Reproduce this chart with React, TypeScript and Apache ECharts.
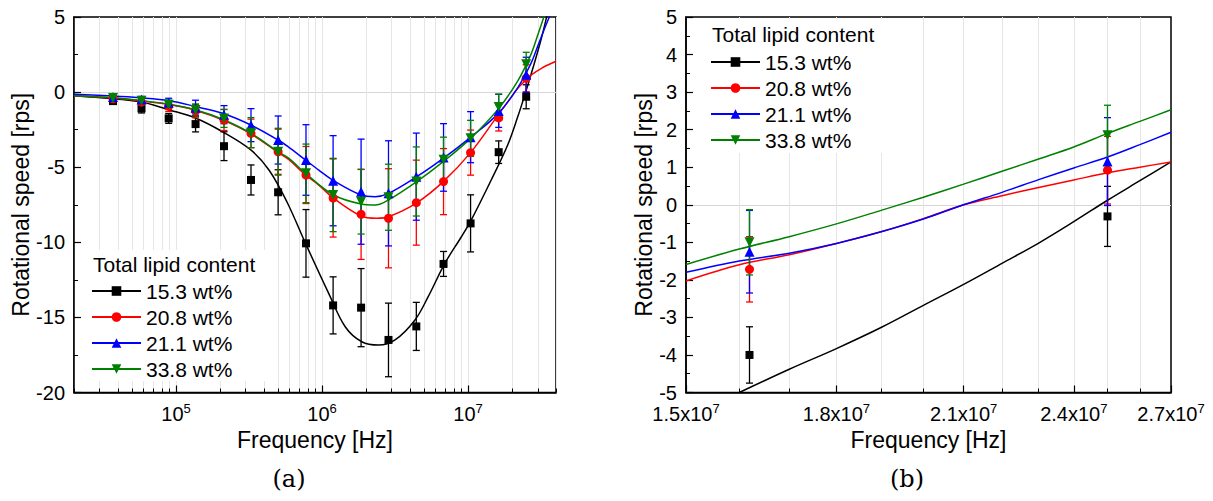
import React, { useEffect, useRef } from "react";
import * as echarts from "echarts";

const FONT = "'Liberation Sans', Arial, sans-serif";

// Series metadata
const seriesNames = ["15.3 wt%", "20.8 wt%", "21.1 wt%", "33.8 wt%"];
const seriesColors = ["#000000", "#ff0000", "#0000ff", "#008000"];
const seriesSymbols = ["rect", "circle", "triangle", "triangle"];
const symbolRotations = [0, 0, 0, 180];
const symbolSizes = [8, 9, 10, 10];

// Measured points (frequency in Hz)
const freqHz = [3.7e4, 5.8e4, 8.9e4, 1.36e5, 2.13e5, 3.26e5, 5.0e5, 7.76e5, 1.19e6, 1.85e6, 2.85e6, 4.42e6, 6.79e6, 1.04e7, 1.62e7, 2.5e7];

const speed153 = [-0.6, -1.09, -1.75, -2.13, -3.6, -5.85, -6.67, -10.07, -14.2, -14.35, -16.5, -15.6, -11.44, -8.74, -4.0, -0.31];
const err153 = [0.2, 0.3, 0.33, 0.52, 0.96, 1.0, 1.5, 2.25, 1.9, 2.6, 2.45, 1.6, 0.83, 1.9, 0.75, 0.8];
const speed208 = [-0.45, -0.67, -0.93, -1.26, -1.86, -2.75, -3.97, -5.52, -7.05, -8.14, -8.4, -7.36, -5.96, -4.03, -1.72, 0.92];
const err208 = [0.2, 0.25, 0.35, 0.45, 0.7, 0.95, 1.5, 1.9, 2.6, 3.0, 3.3, 2.83, 2.2, 1.5, 0.87, 0.9];
const speed211 = [-0.33, -0.49, -0.71, -1.04, -1.5, -2.2, -3.19, -4.52, -5.9, -6.63, -6.74, -5.63, -4.35, -3.0, -1.25, 1.15];
const err211 = [0.15, 0.2, 0.3, 0.5, 0.6, 1.1, 1.6, 2.35, 3.0, 3.5, 3.5, 2.9, 2.25, 1.7, 1.1, 1.17];
const speed338 = [-0.4, -0.58, -0.84, -1.2, -1.75, -2.7, -3.97, -5.41, -6.85, -7.3, -7.0, -5.95, -4.5, -3.08, -1.0, 1.85];
const err338 = [0.15, 0.2, 0.3, 0.4, 0.6, 1.0, 1.56, 1.95, 2.44, 2.15, 2.2, 2.3, 1.5, 1.2, 0.87, 0.8];

// Fitted curves, panel (a)
const fitFreqA153 = [2e4, 3.2e4, 5.6e4, 9e4, 1.37e5, 2.08e5, 3.25e5, 4.34e5, 5.74e5, 7.7e5, 1.11e6, 1.44e6, 1.87e6, 2.44e6, 3.16e6, 4.33e6, 5.33e6, 6.93e6, 9.0e6, 1.05e7, 1.44e7, 1.87e7, 2.19e7, 2.48e7, 2.8e7, 3.16e7, 3.45e7, 3.7e7];
const fitA153 = [-0.25, -0.4, -0.63, -1.19, -1.74, -2.64, -3.85, -5.2, -7.3, -10.07, -13.4, -15.62, -16.62, -16.84, -16.5, -15.17, -13.62, -11.4, -9.63, -8.52, -5.85, -3.5, -1.63, 0.0, 1.7, 3.5, 5.0, 6.3];
const fitFreqA208 = [2e4, 3.7e4, 5.6e4, 9e4, 1.37e5, 2.08e5, 3.25e5, 5.0e5, 5.93e5, 7.7e5, 9.5e5, 1.2e6, 1.85e6, 2.36e6, 2.85e6, 4.45e6, 6.76e6, 1.04e7, 1.6e7, 2.19e7, 2.48e7, 2.7e7, 3.2e7, 4e7];
const fitA208 = [-0.25, -0.4, -0.57, -0.83, -1.22, -1.85, -2.78, -4.02, -4.5, -5.52, -6.19, -7.07, -8.25, -8.4, -8.3, -7.37, -5.96, -4.03, -1.55, 0.25, 0.8, 1.13, 1.6, 2.05];
const fitFreqA211 = [2e4, 3.7e4, 5.6e4, 9e4, 1.37e5, 2.08e5, 3.25e5, 5.0e5, 5.93e5, 7.7e5, 9.5e5, 1.2e6, 1.85e6, 2.31e6, 2.85e6, 4.45e6, 6.76e6, 1.04e7, 1.6e7, 2.19e7, 2.7e7, 3.0e7, 3.3e7, 3.6e7, 4e7];
const fitA211 = [-0.15, -0.26, -0.37, -0.57, -0.97, -1.41, -2.19, -3.19, -3.68, -4.52, -5.19, -5.9, -6.85, -6.96, -6.74, -5.63, -4.41, -3.01, -1.45, 0.3, 1.93, 3.06, 4.1, 5.0, 6.0];
const fitFreqA338 = [2e4, 3.7e4, 5.6e4, 9e4, 1.37e5, 2.08e5, 3.25e5, 5.0e5, 5.93e5, 7.7e5, 1.2e6, 1.85e6, 2.31e6, 2.85e6, 4.45e6, 6.76e6, 1.04e7, 1.6e7, 2.19e7, 2.7e7, 3.0e7, 3.3e7, 3.6e7];
const fitA338 = [-0.25, -0.38, -0.55, -0.81, -1.19, -1.81, -2.74, -3.97, -4.41, -5.41, -6.85, -7.45, -7.52, -7.18, -5.96, -4.63, -3.08, -1.15, 0.75, 2.53, 3.8, 5.0, 6.2];

// Fitted curves, panel (b)
const fitFreqB = [1.5e7, 1.6e7, 1.7e7, 1.8e7, 1.9e7, 2.0e7, 2.1e7, 2.2e7, 2.3e7, 2.4e7, 2.5e7, 2.6e7, 2.7e7];
const fitFreqB153 = [1.6e7, 1.7e7, 1.8e7, 1.9e7, 2.0e7, 2.1e7, 2.2e7, 2.3e7, 2.4e7, 2.5e7, 2.6e7, 2.7e7];
const fitB153 = [-5.0, -4.38, -3.83, -3.27, -2.68, -2.12, -1.56, -1.02, -0.45, 0.12, 0.64, 1.14];
const fitB208 = [-2.03, -1.6, -1.33, -1.03, -0.72, -0.37, 0.0, 0.24, 0.46, 0.66, 0.85, 1.0, 1.14];
const fitB211 = [-1.8, -1.5, -1.29, -1.03, -0.72, -0.38, 0.0, 0.33, 0.67, 0.98, 1.27, 1.6, 1.93];
const fitB338 = [-1.59, -1.18, -0.85, -0.51, -0.15, 0.2, 0.55, 0.89, 1.22, 1.54, 1.9, 2.22, 2.53];

// Axes
const xRangeA = [2e4, 4e7];
const xMajorA = [1e5, 1e6, 1e7];
const xGridA = [2e4, 3e4, 4e4, 5e4, 6e4, 7e4, 8e4, 9e4, 1e5, 2e5, 3e5, 4e5, 5e5, 6e5, 7e5, 8e5, 9e5, 1e6, 2e6, 3e6, 4e6, 5e6, 6e6, 7e6, 8e6, 9e6, 1e7, 2e7, 3e7, 4e7];
const yRangeA = [-20, 5];
const xRangeB = [1.5e7, 2.7e7];
const xMajorB = [1.5e7, 1.8e7, 2.1e7, 2.4e7, 2.7e7];
const xGridB = [1.6e7, 1.7e7, 1.8e7, 1.9e7, 2.0e7, 2.1e7, 2.2e7, 2.3e7, 2.4e7, 2.5e7, 2.6e7];
const yRangeB = [-5, 5];

const legendTitle = "Total lipid content";
const xTitle = "Frequency [Hz]";
const yTitle = "Rotational speed [rps]";

const lg = (v: number) => Math.log10(v);

const speeds = [speed153, speed208, speed211, speed338];
const errs = [err153, err208, err211, err338];
const fitsA = [
  [fitFreqA153, fitA153],
  [fitFreqA208, fitA208],
  [fitFreqA211, fitA211],
  [fitFreqA338, fitA338],
];
const fitsB = [
  [fitFreqB153, fitB153],
  [fitFreqB, fitB208],
  [fitFreqB, fitB211],
  [fitFreqB, fitB338],
];

const errRender = (color: string) => (params: any, api: any) => {
  const x = api.value(0);
  const y = api.value(1);
  const e = api.value(2);
  const p1 = api.coord([x, y + e]);
  const p2 = api.coord([x, y - e]);
  const w = 3.5;
  const st = { stroke: color, lineWidth: 1.3 };
  return {
    type: "group",
    children: [
      { type: "line", shape: { x1: p1[0], y1: p1[1], x2: p2[0], y2: p2[1] }, style: st },
      { type: "line", shape: { x1: p1[0] - w, y1: p1[1], x2: p1[0] + w, y2: p1[1] }, style: st },
      { type: "line", shape: { x1: p2[0] - w, y1: p2[1], x2: p2[0] + w, y2: p2[1] }, style: st },
    ],
  };
};

function panelSeries(panel: number, fits: any[], fMin: number, fMax: number) {
  const ax = panel * 2;
  const out: any[] = [];
  for (let i = 0; i < 4; i++) {
    const [ff, vv] = fits[i];
    out.push({
      name: seriesNames[i],
      type: "line",
      xAxisIndex: ax,
      yAxisIndex: ax,
      data: ff.map((f: number, k: number) => [lg(f), vv[k]]),
      smooth: 0.35,
      showSymbol: false,
      symbol: seriesSymbols[i],
      symbolRotate: symbolRotations[i],
      symbolSize: symbolSizes[i],
      lineStyle: { color: seriesColors[i], width: 1.5 },
      itemStyle: { color: seriesColors[i] },
      clip: true,
      silent: true,
      z: 2,
    });
  }
  for (let i = 0; i < 4; i++) {
    const pts: any[] = [];
    freqHz.forEach((f, k) => {
      if (f >= fMin && f <= fMax) pts.push([lg(f), speeds[i][k], errs[i][k]]);
    });
    out.push({
      name: "err" + panel + "-" + i,
      type: "custom",
      xAxisIndex: ax,
      yAxisIndex: ax,
      data: pts,
      encode: { x: 0, y: 1 },
      renderItem: errRender(seriesColors[i]),
      silent: true,
      z: 3,
    });
    out.push({
      name: "pts" + panel + "-" + i,
      type: "scatter",
      xAxisIndex: ax,
      yAxisIndex: ax,
      data: pts.map((p) => [p[0], p[1]]),
      symbol: seriesSymbols[i],
      symbolRotate: symbolRotations[i],
      symbolSize: symbolSizes[i],
      itemStyle: { color: seriesColors[i], opacity: 1 },
      silent: true,
      z: 4,
    });
  }
  return out;
}

const supRich = {
  b: { fontSize: 20, lineHeight: 24, color: "#000", fontFamily: FONT },
  sup: { fontSize: 13, lineHeight: 13, verticalAlign: "top", color: "#000", fontFamily: FONT },
};

function xAxes(grid: number, range: number[], major: number[], gridVals: number[], fmt: (v: number) => string) {
  return [
    {
      gridIndex: grid,
      type: "value",
      position: "bottom",
      min: lg(range[0]),
      max: lg(range[1]),
      axisLine: { show: true, onZero: false, lineStyle: { color: "#000", width: 1.5 } },
      axisTick: { show: true, inside: true, length: 7, customValues: major.map(lg), lineStyle: { color: "#000", width: 1.2 } },
      axisLabel: { show: true, customValues: major.map(lg), formatter: fmt, margin: 9, rich: supRich, color: "#000" },
      splitLine: { show: false },
      name: xTitle,
      nameLocation: "middle",
      nameGap: 34,
      nameTextStyle: { fontSize: 23, color: "#000", fontFamily: FONT },
    },
    {
      gridIndex: grid,
      type: "value",
      position: "bottom",
      min: lg(range[0]),
      max: lg(range[1]),
      axisLine: { show: false, onZero: false },
      axisTick: { show: true, inside: true, length: 4, customValues: gridVals.map(lg), lineStyle: { color: "#000", width: 1 } },
      axisLabel: { show: false },
      splitLine: { show: true, lineStyle: { color: "#e6e6e6", width: 1 } },
    },
  ];
}

function yAxes(grid: number, range: number[], interval: number, nameGap: number) {
  return [
    {
      gridIndex: grid,
      type: "value",
      position: "left",
      min: range[0],
      max: range[1],
      interval,
      axisLine: { show: true, onZero: false, lineStyle: { color: "#000", width: 1.5 } },
      axisTick: { show: true, inside: true, length: 7, lineStyle: { color: "#000", width: 1.2 } },
      minorTick: { show: true, splitNumber: 2, length: 4, lineStyle: { color: "#000", width: 1 } },
      axisLabel: { fontSize: 20, color: "#000", fontFamily: FONT, margin: 9 },
      splitLine: { show: false },
      name: yTitle,
      nameLocation: "middle",
      nameRotate: 90,
      nameGap,
      nameTextStyle: { fontSize: 23, color: "#000", fontFamily: FONT },
    },
    {
      gridIndex: grid,
      type: "value",
      position: "left",
      min: range[0],
      max: range[1],
      axisLine: { show: false, onZero: false },
      axisTick: { show: false, customValues: [0] },
      axisLabel: { show: false },
      splitLine: { show: true, lineStyle: { color: "#d6d6d6", width: 1 } },
    },
  ];
}

const fmtA = (v: number) => `{b|10}{sup|${Math.round(v)}}`;
const fmtB = (v: number) => {
  const m = Math.round(Math.pow(10, v) / 1e6) / 10;
  return `{b|${m.toFixed(1)}x10}{sup|7}`;
};

function legendFor(left: number, top: number) {
  return {
    data: seriesNames,
    orient: "vertical",
    left,
    top,
    padding: 0,
    itemWidth: 49,
    itemHeight: 12,
    itemGap: 4,
    selectedMode: false,
    textStyle: { fontSize: 21, lineHeight: 22, color: "#000", fontFamily: FONT, padding: [0, 0, 0, 0] },
  };
}

export default function App() {
  const ref = useRef<HTMLDivElement>(null);
  useEffect(() => {
    document.body.style.margin = "0";
    if (!ref.current) return;
    const chart = echarts.init(ref.current, null, { renderer: "svg" });
    const option: any = {
      animation: false,
      backgroundColor: "#ffffff",
      textStyle: { fontFamily: FONT },
      grid: [
        { left: 74, top: 17, width: 482, height: 375.5, show: true, borderColor: "#000", borderWidth: 1.5, backgroundColor: "transparent", containLabel: false, outerBoundsMode: "none" },
        { left: 686, top: 17, width: 485, height: 375.5, show: true, borderColor: "#000", borderWidth: 1.5, backgroundColor: "transparent", containLabel: false, outerBoundsMode: "none" },
      ],
      xAxis: [...xAxes(0, xRangeA, xMajorA, xGridA, fmtA), ...xAxes(1, xRangeB, xMajorB, xGridB, fmtB)],
      yAxis: [...yAxes(0, yRangeA, 5, 40), ...yAxes(1, yRangeB, 1, 28)],
      legend: [legendFor(91, 280), legendFor(710, 51)],
      series: [
        ...panelSeries(0, fitsA, xRangeA[0], xRangeA[1]),
        ...panelSeries(1, fitsB, xRangeB[0], xRangeB[1]),
      ],
      graphic: [
        { type: "rect", z: 1, shape: { x: 86, y: 250, width: 182, height: 131 }, style: { fill: "#ffffff" }, silent: true },
        { type: "rect", z: 1, shape: { x: 703, y: 19, width: 180, height: 134 }, style: { fill: "#ffffff" }, silent: true },
        { type: "text", z: 10, x: 93, y: 264, style: { text: legendTitle, fontSize: 21, fontFamily: FONT, fill: "#000", textAlign: "left", textVerticalAlign: "middle", verticalAlign: "middle" }, silent: true },
        { type: "text", z: 10, x: 712, y: 34, style: { text: legendTitle, fontSize: 21, fontFamily: FONT, fill: "#000", textAlign: "left", textVerticalAlign: "middle", verticalAlign: "middle" }, silent: true },
        { type: "text", z: 10, x: 289, y: 479, style: { text: "(a)", fontSize: 24, fontFamily: "'DejaVu Serif', serif", fill: "#000", textAlign: "center", textVerticalAlign: "middle", verticalAlign: "middle" }, silent: true },
        { type: "text", z: 10, x: 907, y: 479, style: { text: "(b)", fontSize: 24, fontFamily: "'DejaVu Serif', serif", fill: "#000", textAlign: "center", textVerticalAlign: "middle", verticalAlign: "middle" }, silent: true },
      ],
    };
    chart.setOption(option);
    return () => chart.dispose();
  }, []);
  return <div ref={ref} style={{ width: 1213, height: 501, position: "absolute", left: 0, top: 0 }} />;
}
